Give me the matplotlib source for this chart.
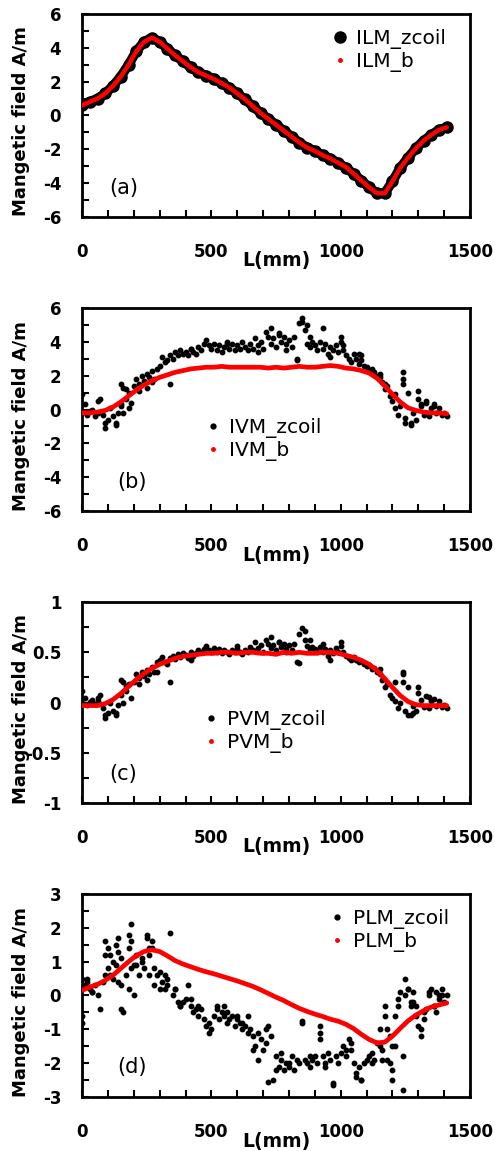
import numpy as np
import matplotlib
matplotlib.use('Agg')
import matplotlib.pyplot as plt
from matplotlib.lines import Line2D
from matplotlib.ticker import MultipleLocator, FormatStrFormatter

plt.rcParams['font.family'] = ['DejaVu Sans']
plt.rcParams['axes.unicode_minus'] = False

# sample positions (mm)
L_smooth = np.arange(0, 1411, 30)
L_coil = np.arange(0, 1411, 10)

# (a) ILM
ilm_zcoil = [0.6, 0.8, 1.0, 1.3, 1.75, 2.3, 3.0, 3.8, 4.35, 4.6, 4.35, 3.95, 3.55, 3.2, 2.85, 2.55,
             2.35, 2.15, 1.9, 1.65, 1.3, 0.95, 0.55, 0.15, -0.2, -0.55, -0.9, -1.25, -1.6, -1.9, -2.1,
             -2.35, -2.55, -2.8, -3.1, -3.45, -3.85, -4.25, -4.6, -4.6, -3.9, -3.1, -2.5, -1.95, -1.5,
             -1.15, -0.85, -0.7]
ilm_b = [0.6, 0.8, 1.0, 1.3, 1.75, 2.3, 3.0, 3.8, 4.35, 4.6, 4.35, 3.95, 3.55, 3.2, 2.85, 2.55,
         2.35, 2.15, 1.9, 1.65, 1.3, 0.95, 0.55, 0.15, -0.2, -0.55, -0.9, -1.25, -1.6, -1.9, -2.1,
         -2.35, -2.55, -2.8, -3.05, -3.45, -3.85, -4.25, -4.6, -4.6, -3.9, -3.1, -2.5, -1.95, -1.5,
         -1.15, -0.85, -0.7]

# (b) IVM
ivm_b = [-0.2, -0.2, -0.15, -0.05, 0.15, 0.45, 0.8, 1.15, 1.45, 1.7, 1.9, 2.05, 2.2, 2.3, 2.4, 2.45,
         2.5, 2.5, 2.55, 2.5, 2.5, 2.5, 2.5, 2.5, 2.45, 2.5, 2.45, 2.5, 2.55, 2.5, 2.5, 2.55, 2.6,
         2.55, 2.45, 2.4, 2.3, 2.15, 1.85, 1.4, 0.9, 0.45, 0.1, -0.05, -0.15, -0.2, -0.2, -0.25]
ivm_zcoil = [-0.2, 0.3, -0.3, -0.1, 0.0, -0.4, -0.2, 0.6, -0.3, -1.1,
             -0.6, 0.1, -0.4, -0.8, -0.2, 0.3, 1.3, 0.6, 1.0, 0.4,
             1.4, 1.8, 1.5, 2.0, 1.7, 2.1, 1.9, 2.3, 1.8, 2.4,
             2.6, 3.1, 2.8, 2.9, 3.2, 3.0, 3.4, 3.2, 3.5, 3.3,
             3.4, 3.2, 3.6, 3.4, 3.3, 3.7, 3.5, 3.9, 4.1, 3.8,
             3.6, 3.9, 3.5, 3.8, 3.4, 3.7, 3.9, 3.6, 3.9, 3.5,
             3.8, 3.6, 4.0, 3.7, 3.5, 3.9, 3.6, 4.2, 3.8, 4.0,
             3.6, 4.6, 4.3, 3.9, 4.2, 3.7, 4.4, 4.0, 4.3, 3.9,
             4.1, 3.7, 4.3, 3.0, 5.1, 5.4, 4.7, 3.9, 3.7, 4.0,
             3.8, 3.5, 4.0, 3.6, 3.9, 3.3, 3.7, 3.5, 3.8, 3.4,
             4.3, 3.5, 3.2, 3.0, 2.8, 3.3, 3.0, 2.7, 2.9, 2.6,
             2.5, 2.3, 2.4, 2.2, 2.0, 1.9, 1.6, 1.2, 1.4, 0.8,
             0.5, 0.1, -0.3, 0.2, 1.8, -0.5, 1.0, -0.8, -0.2, -0.6,
             0.6, 0.2, -0.3, 0.4, -0.4, 0.1, 0.2, -0.2, 0.1, -0.3,
             -0.2, -0.4]
ivm_extra_L = [0, 60, 90, 130, 150, 150, 160, 170, 180, 220, 250, 270, 340, 420, 560, 680, 730, 760,
               790, 830, 850, 870, 880, 930, 960, 1000, 1010, 1070, 1080, 1150, 1170, 1210, 1240,
               1240, 1250, 1270, 1300, 1310, 1330, 1360]
ivm_extra_v = [0.9, 0.5, -0.8, -0.9, 1.5, 0.2, -0.2, 1.2, 0.1, 1.1, 1.3, 1.6, 1.5, 3.6, 4.0, 3.4, 4.8,
               4.5, 3.5, 2.9, 5.2, 5.0, 4.3, 4.8, 3.1, 4.0, 3.8, 3.3, 3.2, 2.1, 1.5, 0.9, 2.2, 1.5,
               -0.8, -0.9, 1.1, 0.3, 0.5, 0.3]

# (c) PVM
pvm_b = [-0.03, -0.03, -0.03, -0.01, 0.03, 0.09, 0.16, 0.23, 0.29, 0.34, 0.38, 0.41, 0.44, 0.46,
         0.47, 0.48, 0.49, 0.49, 0.5, 0.5, 0.49, 0.5, 0.5, 0.49, 0.49, 0.48, 0.5, 0.49, 0.5, 0.49,
         0.49, 0.5, 0.5, 0.49, 0.47, 0.45, 0.42, 0.38, 0.32, 0.24, 0.15, 0.07, 0.01, -0.02, -0.03,
         -0.03, -0.03, -0.03]
pvm_zcoil = [0.0, 0.05, -0.02, 0.01, 0.03, -0.01, 0.02, 0.08, -0.05, -0.15,
             -0.1, 0.0, -0.08, -0.12, -0.02, 0.08, 0.2, 0.12, 0.18, 0.05,
             0.2, 0.28, 0.24, 0.3, 0.26, 0.32, 0.28, 0.35, 0.3, 0.4,
             0.42, 0.45, 0.4, 0.38, 0.44, 0.46, 0.43, 0.48, 0.45, 0.49,
             0.47, 0.44, 0.5, 0.46, 0.49, 0.52, 0.5, 0.53, 0.56, 0.52,
             0.5, 0.54, 0.5, 0.53, 0.49, 0.52, 0.5, 0.48, 0.52, 0.5,
             0.53, 0.5, 0.48, 0.52, 0.5, 0.55, 0.52, 0.6, 0.54, 0.57,
             0.5, 0.62, 0.58, 0.54, 0.57, 0.52, 0.6, 0.55, 0.58, 0.53,
             0.57, 0.52, 0.58, 0.4, 0.68, 0.74, 0.62, 0.56, 0.52, 0.55,
             0.53, 0.5, 0.55, 0.5, 0.53, 0.46, 0.52, 0.49, 0.54, 0.5,
             0.6, 0.5, 0.46, 0.44, 0.42, 0.45, 0.42, 0.4, 0.41, 0.38,
             0.36, 0.37, 0.33, 0.34, 0.3, 0.28, 0.22, 0.15, 0.18, 0.08,
             0.05, 0.02, -0.05, 0.0, 0.3, -0.08, 0.15, -0.12, -0.03, -0.08,
             0.1, 0.03, -0.04, 0.07, -0.05, 0.02, 0.04, -0.03, 0.02, -0.04,
             -0.02, -0.05]
pvm_extra_L = [0, 60, 90, 130, 150, 160, 170, 220, 250, 290, 340, 420, 600, 730, 760, 790, 840, 860,
               880, 930, 960, 1000, 1150, 1210, 1240, 1240, 1260, 1280, 1300, 1340]
pvm_extra_v = [0.12, 0.05, -0.12, -0.1, 0.22, 0.0, 0.16, 0.18, 0.22, 0.3, 0.2, 0.42, 0.56, 0.65,
               0.6, 0.5, 0.39, 0.71, 0.62, 0.58, 0.42, 0.56, 0.33, 0.2, 0.28, 0.2, -0.12, -0.1,
               0.15, 0.06]

# (d) PLM
plm_b = [0.15, 0.25, 0.33, 0.45, 0.6, 0.8, 1.0, 1.18, 1.3, 1.35, 1.3, 1.17, 1.03, 0.93, 0.85, 0.77,
         0.7, 0.64, 0.57, 0.5, 0.43, 0.35, 0.27, 0.17, 0.06, -0.05, -0.15, -0.27, -0.38, -0.47,
         -0.55, -0.62, -0.7, -0.76, -0.85, -0.98, -1.15, -1.3, -1.4, -1.38, -1.2, -0.97, -0.75,
         -0.58, -0.45, -0.34, -0.28, -0.22]
plm_zcoil = [0.5, 0.3, 0.4, 0.2, 0.1, 0.3, 0.0, -0.4, 0.4, 1.6,
             0.8, 1.2, 0.5, 1.5, 1.7, 0.3, -0.5, 0.6, 1.4, 2.1,
             0.9, 1.2, 0.6, 1.0, 0.8, 1.8, 1.4, 1.6, 0.8, 0.6,
             0.7, 0.4, 0.2, 0.5, 1.85, 0.0, 0.2, -0.2, -0.3, -0.2,
             -0.1, 0.3, -0.3, -0.5, -0.4, -0.6, -0.4, -0.7, -0.9, -0.8,
             -1.0, -0.6, -0.4, -0.7, -0.5, -0.6, -0.8, -0.7, -0.6, -0.9,
             -0.7, -0.8, -1.0, -0.9, -1.1, -1.0, -1.2, -1.5, -1.9, -1.3,
             -1.6, -1.4, -0.9, -1.2, -2.5, -1.8, -2.1, -1.9, -2.2, -2.0,
             -2.1, -1.8, -2.2, -1.9, -2.0, -0.8, -1.9, -2.0, -2.1, -1.9,
             -1.8, -2.0, -0.9, -1.8, -2.0, -1.7, -1.9, -2.6, -1.8, -2.0,
             -1.7, -1.5, -1.8, -1.3, -1.6, -2.0, -2.4, -2.1, -2.5, -2.0,
             -1.9, -1.8, -2.0, -1.9, -1.4, -1.0, -1.6, -0.3, -1.9, -1.2,
             -2.5, -0.6, -0.1, 0.1, -1.8, 0.5, 0.2, -0.3, -0.2, -0.6,
             -0.9, -1.2, -0.7, -0.4, 0.0, 0.2, -0.3, 0.1, -0.1, 0.0,
             -0.2, 0.0]
plm_extra_L = [0, 0, 20, 40, 90, 90, 100, 110, 120, 130, 140, 140, 150, 150, 180, 180, 190, 190, 200,
               210, 230, 250, 260, 260, 270, 280, 300, 320, 330, 360, 380, 420, 450, 490, 520, 550,
               560, 600, 620, 640, 660, 680, 710, 720, 750, 770, 800, 850, 880, 920, 920, 940, 970,
               1020, 1040, 1060, 1080, 1120, 1150, 1160, 1170, 1180, 1190, 1200, 1200, 1210, 1220,
               1240, 1250, 1260, 1270, 1280, 1290, 1310, 1320, 1340, 1360, 1370, 1380, 1390]
plm_extra_v = [-0.8, -0.6, 0.5, 0.1, 1.2, 0.6, 1.4, 0.6, 1.0, 0.9, 1.3, 0.4, 1.1, -0.4, 1.8, 0.2,
               1.6, 0.8, 0.0, 0.9, 1.1, 1.7, 1.2, 0.6, 1.4, 0.3, 0.2, 0.6, 0.3, 0.2, -0.3, -0.1, -0.3,
               -1.1, -0.3, -0.3, -0.5, -0.6, -0.8, -0.6, -1.6, -1.1, -1.0, -2.55, -2.2, -1.7, -2.0,
               -0.75, -1.8, -1.3, -1.1, -2.1, -2.65, -1.6, -1.4, -2.3, -2.5, -1.7, -1.5, -1.9, -0.6,
               -1.0, -2.0, -1.5, -2.2, -1.5, -0.3, -2.8, 0.0, 0.2, -0.2, 0.1, -0.3, -1.0, -0.5, 0.1,
               -0.3, -0.5, 0.0, 0.2]

panels = [
    dict(zc=ilm_zcoil, b=ilm_b, names=('ILM_zcoil', 'ILM_b'), tag='(a)', ylim=(-6, 6),
         major=2, minor=1, fmt='%d', rect=[0.1657, 0.8115, 0.784, 0.1764],
         leg=(0.644, 0.925), tagpos=(0.108, 0.143)),
    dict(zc=ivm_zcoil, ex=(ivm_extra_L, ivm_extra_v), b=ivm_b, names=('IVM_zcoil', 'IVM_b'),
         tag='(b)', ylim=(-6, 6), major=2, minor=1, fmt='%d', rect=[0.1657, 0.556, 0.784, 0.1764],
         leg=(0.317, 0.46), tagpos=(0.129, 0.143)),
    dict(zc=pvm_zcoil, ex=(pvm_extra_L, pvm_extra_v), b=pvm_b, names=('PVM_zcoil', 'PVM_b'),
         tag='(c)', ylim=(-1, 1), major=0.5, minor=0.25, fmt='%g', rect=[0.1657, 0.3023, 0.784, 0.1746],
         leg=(0.312, 0.465), tagpos=(0.106, 0.144)),
    dict(zc=plm_zcoil, ex=(plm_extra_L, plm_extra_v), b=plm_b, names=('PLM_zcoil', 'PLM_b'),
         tag='(d)', ylim=(-3, 3), major=1, minor=0.5, fmt='%d', rect=[0.1657, 0.0469, 0.784, 0.1764],
         leg=(0.637, 0.925), tagpos=(0.129, 0.148)),
]

fig = plt.figure(figsize=(4.95, 11.51), dpi=100)

for i, p in enumerate(panels):
    ax = fig.add_axes(p['rect'])
    if i == 0:
        ax.plot(L_smooth, p['zc'], color='black', lw=7, solid_capstyle='round',
                marker='o', ms=8, zorder=2)
        ax.plot(L_smooth, p['b'], color='#ff0000', lw=3.2, solid_capstyle='round', zorder=3)
        h1 = Line2D([], [], ls='none', marker='o', color='black', ms=8)
    else:
        ax.plot(L_coil, p['zc'], ls='none', marker='o', color='black', ms=3.2, zorder=2)
        ax.plot(p['ex'][0], p['ex'][1], ls='none', marker='o', color='black', ms=3.2, zorder=2)
        ax.plot(L_smooth, p['b'], color='#ff0000', lw=3.4, solid_capstyle='round', zorder=3)
        h1 = Line2D([], [], ls='none', marker='o', color='black', ms=3.5)
    h2 = Line2D([], [], ls='none', marker='o', color='#ff0000', ms=2.5)
    ax.legend([h1, h2], p['names'], loc='upper left', bbox_to_anchor=p['leg'], frameon=False,
              fontsize=14.5, handlelength=0.8, handletextpad=0.4, borderpad=0, borderaxespad=0,
              labelspacing=0.15)

    ax.set_xlim(0, 1500)
    ax.set_ylim(*p['ylim'])
    ax.xaxis.set_major_locator(MultipleLocator(500))
    ax.xaxis.set_minor_locator(MultipleLocator(100))
    ax.yaxis.set_major_locator(MultipleLocator(p['major']))
    ax.yaxis.set_minor_locator(MultipleLocator(p['minor']))
    ax.yaxis.set_major_formatter(FormatStrFormatter(p['fmt']))
    ax.tick_params(which='both', direction='in', width=1.5, labelsize=12)
    ax.tick_params(which='major', length=5)
    ax.tick_params(which='minor', length=5)
    ax.tick_params(axis='x', which='major', pad=19)
    ax.tick_params(axis='y', which='major', pad=15)
    for t in ax.get_xticklabels() + ax.get_yticklabels():
        t.set_fontweight('bold')
    for s in ax.spines.values():
        s.set_linewidth(2)

    ax.set_xlabel('L(mm)', fontsize=13.5, fontweight='bold')
    ax.xaxis.set_label_coords(0.5, -0.17)
    ax.set_ylabel('Mangetic field A/m', fontsize=13, fontweight='bold')
    ax.yaxis.set_label_coords(-0.135, 0.47)
    ax.text(p['tagpos'][0], p['tagpos'][1], p['tag'], transform=ax.transAxes, fontsize=15,
            ha='center', va='center')

fig.savefig('out.png', dpi=100)
